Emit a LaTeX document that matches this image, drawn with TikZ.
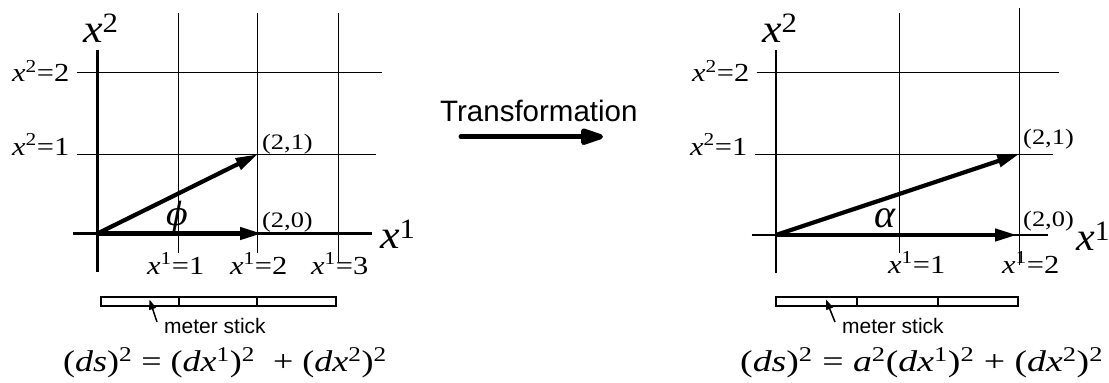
\documentclass[tikz,border=0pt]{standalone}
\usepackage{fontspec}
\setmainfont{Liberation Serif}
\newfontfamily\sansf{Liberation Sans}
\newfontfamily\dvserif{DejaVu Serif}
\usetikzlibrary{arrows.meta}
\newcommand\hx[2]{\scalebox{#1}[1]{#2}}
\newcommand\ix{\textit{x}}
\begin{document}
\begin{tikzpicture}[x=1pt,y=-1pt,
  axis/.style={line width=2.6pt},
  gridln/.style={line width=1pt},
  vec/.style={line width=4.2pt,-{Triangle[length=22pt,width=12pt]}},
  lbl/.style={inner sep=0pt,font=\fontsize{26}{30}\selectfont},
  crd/.style={inner sep=0pt,font=\fontsize{22}{26}\selectfont},
  big/.style={inner sep=0pt,font=\fontsize{40}{44}\selectfont},
  meter/.style={inner sep=0pt,font=\sansf\fontsize{21}{24}\selectfont},
  formula/.style={inner sep=0pt,font=\fontsize{30}{34}\selectfont},
  stickbox/.style={line width=1.2pt},
  stickdiv/.style={line width=2pt},
  stickarrow/.style={line width=1.5pt,-{Triangle[length=10pt,width=7pt]}},
  bigarrow/.style={line width=5pt,line cap=round,-{Triangle[length=28pt,width=17pt,round]}}
]
\useasboundingbox (0,0) rectangle (1109,383);

% ---------------- left panel ----------------
\coordinate (LO) at (97.5,233.5);
\coordinate (LyT) at (97.5,50);   \coordinate (LyB) at (97.5,272);
\coordinate (LxL) at (73,233.5);  \coordinate (LxR) at (372,233.5);
\coordinate (Lv1T) at (178.3,13); \coordinate (Lv1B) at (178.3,253);
\coordinate (Lv2T) at (257.7,13); \coordinate (Lv2B) at (257.7,253);
\coordinate (Lv3T) at (338.3,13); \coordinate (Lv3B) at (338.3,262);
\coordinate (Lh2L) at (77,72.7);  \coordinate (Lh2R) at (381.7,72.7);
\coordinate (Lh1L) at (77,154.3); \coordinate (Lh1R) at (376,154.3);
\coordinate (LP21) at (257.7,154.3);
\coordinate (LP20) at (262,233.5);

\draw[gridln] (Lv1T) -- (Lv1B);
\draw[gridln] (Lv2T) -- (Lv2B);
\draw[gridln] (Lv3T) -- (Lv3B);
\draw[gridln] (Lh2L) -- (Lh2R);
\draw[gridln] (Lh1L) -- (Lh1R);
\draw[axis] (LyT) -- (LyB);
\draw[axis] (LxL) -- (LxR);
\draw[vec] (LO) -- (LP21);
\draw[vec] (LO) -- (LP20);

\node[big,anchor=base west] (Lx2) at (83,42) {\hx{1.1}{\ix\textsuperscript{2}}};
\node[big,anchor=base west] (Lx1) at (380,248) {\hx{1.1}{\ix\textsuperscript{1}}};
\node[lbl,anchor=base west] (Ly2) at (12,81.5) {\hx{1.17}{\ix\textsuperscript{2}=2}};
\node[lbl,anchor=base west] (Ly1) at (12,155) {\hx{1.17}{\ix\textsuperscript{2}=1}};
\node[lbl,anchor=base west] (Lt1) at (147,274) {\hx{1.17}{\ix\textsuperscript{1}=1}};
\node[lbl,anchor=base west] (Lt2) at (230,274) {\hx{1.17}{\ix\textsuperscript{1}=2}};
\node[lbl,anchor=base west] (Lt3) at (311,274) {\hx{1.17}{\ix\textsuperscript{1}=3}};
\node[crd,anchor=base west] (Lc21) at (262,149.5) {\hx{1.2}{(2,1)}};
\node[crd,anchor=base west] (Lc20) at (262,227) {\hx{1.2}{(2,0)}};
\node[inner sep=0pt,font=\dvserif\itshape\fontsize{32}{36}\selectfont] (Lphi) at (177,216.5) {ϕ};

\coordinate (LsA) at (101,297); \coordinate (LsB) at (336,306);
\coordinate (Ld1T) at (179,297); \coordinate (Ld1B) at (179,306);
\coordinate (Ld2T) at (257,297); \coordinate (Ld2B) at (257,306);
\draw[stickbox] (LsA) rectangle (LsB);
\draw[stickdiv] (Ld1T) -- (Ld1B);
\draw[stickdiv] (Ld2T) -- (Ld2B);
\coordinate (LaT) at (157,322); \coordinate (LaH) at (149.5,299.5);
\draw[stickarrow] (LaT) -- (LaH);
\node[meter,anchor=base west] (Lm) at (164,333) {meter stick};
\node[formula,anchor=base west] (Lf) at (63,371)
  {\hx{1.2}{(\textit{ds})\textsuperscript{2} = (\textit{dx}\textsuperscript{1})\textsuperscript{2} \ + (\textit{dx}\textsuperscript{2})\textsuperscript{2}}};

% ---------------- transformation ----------------
\node[inner sep=0pt,font=\sansf\fontsize{29.5}{34}\selectfont,anchor=base west] (T) at (440,121) {Transformation};
\coordinate (TA) at (461,136.7); \coordinate (TB) at (603,136.7);
\draw[bigarrow] (TA) -- (TB);

% ---------------- right panel ----------------
\coordinate (RO) at (776,235);
\coordinate (RyT) at (776,50);    \coordinate (RyB) at (776,273);
\coordinate (RxL) at (751.7,235); \coordinate (RxR) at (1048,235);
\coordinate (Rv1T) at (899.3,13); \coordinate (Rv1B) at (899.3,253);
\coordinate (Rv2T) at (1019.3,8); \coordinate (Rv2B) at (1019.3,265);
\coordinate (Rh2L) at (756.7,72.7); \coordinate (Rh2R) at (1059,72.7);
\coordinate (Rh1L) at (755,154);    \coordinate (Rh1R) at (1053,154);
\coordinate (RP21) at (1019.3,154);
\coordinate (RP20) at (1017,235);

\draw[gridln] (Rv1T) -- (Rv1B);
\draw[gridln] (Rv2T) -- (Rv2B);
\draw[gridln] (Rh2L) -- (Rh2R);
\draw[gridln] (Rh1L) -- (Rh1R);
\draw[axis] (RyT) -- (RyB);
\draw[axis] (RxL) -- (RxR);
\draw[vec] (RO) -- (RP21);
\draw[vec] (RO) -- (RP20);

\node[big,anchor=base west] (Rx2) at (762,42) {\hx{1.1}{\ix\textsuperscript{2}}};
\node[big,anchor=base west] (Rx1) at (1076,250) {\hx{1.05}{\ix\textsuperscript{1}}};
\node[lbl,anchor=base west] (Ry2) at (692,81.5) {\hx{1.17}{\ix\textsuperscript{2}=2}};
\node[lbl,anchor=base west] (Ry1) at (690,155) {\hx{1.17}{\ix\textsuperscript{2}=1}};
\node[lbl,anchor=base west] (Rt1) at (888,273) {\hx{1.17}{\ix\textsuperscript{1}=1}};
\node[lbl,anchor=base west] (Rt2) at (1002,273) {\hx{1.17}{\ix\textsuperscript{1}=2}};
\node[crd,anchor=base west] (Rc21) at (1023,144) {\hx{1.2}{(2,1)}};
\node[crd,anchor=base west] (Rc20) at (1023,226) {\hx{1.2}{(2,0)}};
\node[inner sep=0pt,font=\itshape\fontsize{40}{44}\selectfont,anchor=base] (Ralpha) at (885,227) {α};

\coordinate (RsA) at (776,297); \coordinate (RsB) at (1018,306);
\coordinate (Rd1T) at (856.7,297); \coordinate (Rd1B) at (856.7,306);
\coordinate (Rd2T) at (937.7,297); \coordinate (Rd2B) at (937.7,306);
\draw[stickbox] (RsA) rectangle (RsB);
\draw[stickdiv] (Rd1T) -- (Rd1B);
\draw[stickdiv] (Rd2T) -- (Rd2B);
\coordinate (RaT) at (835,322); \coordinate (RaH) at (826,299.5);
\draw[stickarrow] (RaT) -- (RaH);
\node[meter,anchor=base west] (Rm) at (842,333) {meter stick};
\node[formula,anchor=base west] (Rf) at (740,371)
  {\hx{1.26}{(\textit{ds})\textsuperscript{2} = \textit{a}\textsuperscript{2}(\textit{dx}\textsuperscript{1})\textsuperscript{2} + (\textit{dx}\textsuperscript{2})\textsuperscript{2}}};
\end{tikzpicture}
\end{document}
